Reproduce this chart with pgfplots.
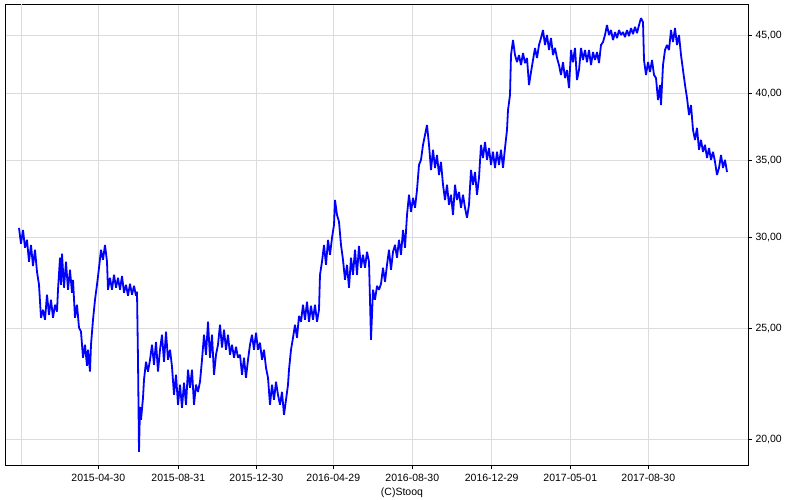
\documentclass[border=0pt]{standalone}
\usepackage{pgfplots}
\pgfplotsset{compat=1.18}
\usepackage{fontspec}
\setmainfont{Liberation Sans}
\definecolor{gridc}{RGB}{220,220,220}
\definecolor{serie}{RGB}{0,0,255}
\begin{document}
\begin{tikzpicture}
\begin{axis}[
  at={(0pt,0pt)}, anchor=south west,
  scale only axis, width=743pt, height=461pt,
  xmin=5, xmax=748,
  ymode=log, ymin=19.0, ymax=47.86,
  xtick={98.3,178.3,256.3,333.3,412.3,491.7,570.3,648.3},
  xticklabels={2015-04-30,2015-08-31,2015-12-30,2016-04-29,2016-08-30,2016-12-29,2017-05-01,2017-08-30},
  extra x ticks={21.3},
  extra x tick labels={},
  extra x tick style={major tick length=0pt, xmajorgrids},
  ytick={20,25,30,35,40,45},
  yticklabels={{20,00},{25,00},{30,00},{35,00},{40,00},{45,00}},
  yticklabel pos=right,
  xtick pos=bottom, ytick pos=right,
  minor tick num=0, log ticks with fixed point,
  tick align=outside, major tick length=4pt,
  tick style={black, line width=0.6pt},
  xmajorgrids, ymajorgrids,
  major grid style={gridc, line width=0.8pt},
  axis line style={black, line width=0.9pt},
  tick label style={font=\fontsize{10.5}{12}\selectfont, text=black},
  yticklabel style={anchor=west, xshift=0pt},
  xticklabel style={anchor=north, yshift=-1pt},
  clip=true,
]
\addplot[serie, line width=1.8pt, line join=miter, miter limit=2] coordinates {
(19,30.57) (21,29.61) (23,30.45) (25,29.38) (27,29.85) (29,28.57) (31,29.55) (33,28.33) (35,29.26) (37,28.00)
(39,27.28) (41,25.53) (43,25.95) (45,25.43) (47,26.74) (49,25.69) (51,26.47) (53,25.53) (55,26.21) (57,25.85)
(58,27.01) (60,28.80) (61,27.28) (62,29.03) (64,27.12) (66,28.57) (68,27.01) (70,28.11) (72,26.85) (73,27.55)
(75,25.53) (77,26.21) (79,25.03) (81,24.83) (83,23.57) (85,24.19) (87,23.19) (88,23.95) (90,22.92) (91,24.19)
(93,25.43) (95,26.47) (97,27.28) (99,28.22) (101,29.26) (103,28.68) (105,29.55) (107,28.57) (108,27.01) (110,27.66)
(112,27.01) (114,27.83) (116,27.12) (118,27.66) (120,27.01) (122,27.77) (124,26.85) (126,27.28) (128,26.69) (130,27.33)
(132,26.74) (134,27.22) (136,26.69) (137,26.90) (138,23.47) (139,19.52) (140,21.36) (141,20.81) (143,21.75) (144,22.55)
(146,23.38) (148,22.92) (150,23.47) (152,24.19) (154,23.24) (156,24.33) (158,22.92) (160,23.95) (162,24.68) (164,23.38)
(166,24.83) (168,23.47) (170,23.95) (172,23.15) (174,21.88) (176,22.78) (178,21.45) (180,22.33) (182,21.32) (184,22.42)
(186,21.45) (188,23.01) (190,22.19) (192,23.01) (194,21.45) (196,22.33) (198,22.01) (200,22.46) (202,23.47) (204,24.68)
(206,23.71) (208,25.33) (210,23.57) (212,24.68) (214,22.78) (216,23.71) (218,24.19) (220,25.18) (222,24.05) (224,24.93)
(226,23.95) (228,24.68) (230,23.71) (232,24.19) (234,23.57) (236,24.09) (238,23.57) (240,23.71) (242,22.78) (244,23.57)
(246,22.64) (248,23.47) (250,24.19) (252,24.68) (254,23.95) (256,24.78) (258,23.95) (260,24.29) (262,23.47) (264,23.95)
(266,23.10) (268,22.64) (270,21.45) (272,22.33) (274,21.66) (276,22.46) (278,21.88) (280,21.45) (282,22.01) (284,21.02)
(286,21.66) (288,22.33) (289,23.01) (291,23.95) (293,24.53) (295,25.18) (297,24.53) (299,25.63) (301,25.33) (303,26.21)
(305,25.43) (307,26.37) (309,25.33) (311,26.16) (313,25.43) (315,26.21) (317,25.33) (319,25.95) (320,27.83) (322,28.57)
(324,29.55) (326,28.39) (328,29.85) (330,28.97) (332,29.97) (334,30.76) (335,32.34) (337,31.38) (339,30.95) (341,29.55)
(343,28.68) (345,27.55) (347,28.39) (349,27.12) (351,28.80) (353,27.83) (355,29.26) (357,27.83) (359,29.49) (361,28.22)
(363,28.97) (365,28.22) (367,29.14) (369,28.57) (370,26.47) (371,24.43) (373,27.01) (375,26.47) (377,27.22) (379,27.01)
(381,27.33) (383,28.22) (385,27.44) (387,28.39) (389,29.26) (391,28.11) (393,29.14) (395,29.55) (397,28.80) (399,29.85)
(401,28.97) (403,30.45) (405,29.38) (407,31.38) (409,32.67) (411,31.57) (413,32.47) (415,31.83) (417,32.99) (419,34.69)
(421,35.04) (423,36.11) (425,36.84) (427,37.58) (429,36.11) (431,34.34) (433,35.75) (435,34.48) (437,35.39) (439,34.00)
(441,34.90) (443,33.33) (445,32.34) (447,33.33) (449,32.02) (451,32.67) (453,31.38) (455,33.33) (457,32.34) (459,32.86)
(461,31.83) (463,32.67) (465,31.83) (467,31.20) (469,32.02) (471,34.34) (473,33.33) (475,34.20) (477,32.67) (479,33.80)
(481,36.11) (483,35.18) (485,36.32) (487,35.04) (489,35.89) (491,34.69) (493,35.61) (495,34.48) (497,35.61) (499,34.69)
(501,35.75) (503,34.48) (505,35.89) (507,37.21) (508,38.72) (510,39.91) (511,43.23) (513,44.55) (515,43.23) (517,42.62)
(519,43.23) (521,42.37) (523,43.41) (525,42.54) (527,42.97) (529,40.71) (531,41.78) (533,42.80) (535,43.85) (537,42.97)
(539,44.11) (541,44.73) (543,45.45) (545,44.11) (547,45.00) (549,43.67) (551,44.73) (553,43.23) (555,43.85) (557,42.97)
(559,42.37) (561,41.54) (563,42.62) (565,41.28) (567,41.95) (569,40.47) (571,43.67) (573,42.62) (575,43.85) (577,41.12)
(579,41.95) (581,43.85) (583,42.80) (585,43.67) (587,42.62) (589,43.67) (591,42.37) (593,43.49) (595,42.80) (597,43.49)
(599,42.54) (601,44.11) (603,44.37) (605,45.00) (607,45.91) (609,45.00) (611,45.45) (613,44.55) (615,45.27) (617,44.73)
(619,45.45) (621,45.00) (623,45.27) (625,44.82) (627,45.45) (629,44.91) (631,45.63) (633,45.09) (635,45.73) (637,45.18)
(639,45.91) (641,46.55) (643,46.18) (644,42.80) (646,41.54) (648,42.62) (650,41.78) (652,42.80) (654,41.54) (656,41.28)
(658,39.51) (660,40.71) (661,39.11) (663,42.37) (665,43.67) (667,44.11) (669,43.67) (671,45.45) (673,44.37) (675,45.63)
(677,44.11) (679,45.00) (681,43.23) (683,41.95) (685,40.71) (687,39.67) (689,38.34) (691,39.11) (693,37.21) (695,36.47)
(697,37.36) (699,35.75) (701,36.47) (703,35.61) (705,36.11) (707,35.18) (709,35.89) (711,35.04) (713,35.61) (715,34.90)
(717,34.00) (719,34.48) (721,35.39) (723,34.48) (725,35.04) (727,34.20)
};
\end{axis}
\node[font=\fontsize{10.5}{12}\selectfont, anchor=center] at (397pt,-27.7pt) {(C)Stooq};
\pgfresetboundingbox
\path[use as bounding box] (-5pt,-34.7pt) rectangle (795pt,465.3pt);
\end{tikzpicture}
\end{document}
